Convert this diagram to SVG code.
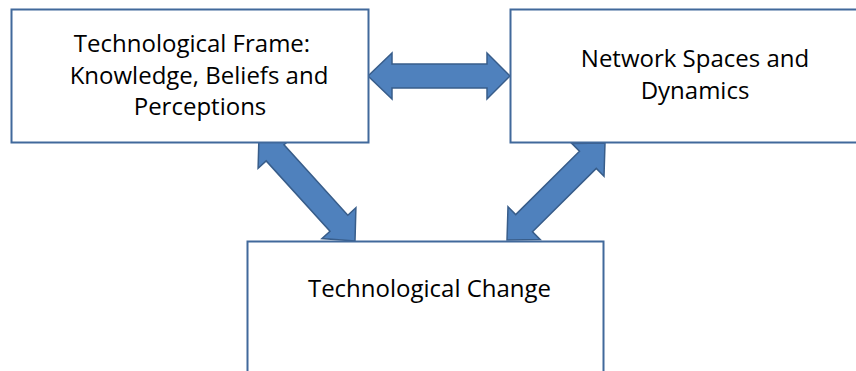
<svg xmlns="http://www.w3.org/2000/svg" width="856" height="371" viewBox="0 0 856 371">
  <style>
    .box { fill: #ffffff; stroke: #41699b; stroke-width: 2; }
    .arrow { fill: #4f81bd; stroke: #385d8a; stroke-width: 1.5; stroke-linejoin: miter; }
    .label { font-family: "Open Sans", "Liberation Sans", sans-serif; font-size: 24px; fill: #000000; text-anchor: middle; }
  </style>
  <rect width="856" height="371" fill="#ffffff"/>

  <!-- connectors: block double arrows, drawn first so the boxes overlap their tips -->
  <g id="connectors">
    <polygon class="arrow" points="368,76 392,53 392,64 487,64 487,53 510,76 487,99 487,88 392,88 392,99"/>
    <polygon class="arrow" points="259,135 258.1,168.2 266.2,160.9 330,231.2 321.9,238.6 355,241 355.9,207.8 347.8,215.2 284,144.8 292.1,137.8"/>
    <polygon class="arrow" points="605,143 571.8,143.4 579.5,151.2 515.7,214.6 508,206.8 507,240 540.2,239.6 532.5,231.8 596.3,168.4 604,176.2"/>
  </g>

  <g id="frame">
    <rect class="box" x="11.5" y="9.5" width="357" height="133"/>
    <text class="label" x="192" y="52">Technological Frame:</text>
    <text class="label" x="199" y="83.5">Knowledge, Beliefs and</text>
    <text class="label" x="200" y="115">Perceptions</text>
  </g>

  <g id="network">
    <rect class="box" x="510.5" y="9.5" width="370" height="133"/>
    <text class="label" x="695" y="67">Network Spaces and</text>
    <text class="label" x="695" y="99">Dynamics</text>
  </g>

  <g id="change">
    <rect class="box" x="247.5" y="241.5" width="356" height="140"/>
    <text class="label" x="429.5" y="297">Technological Change</text>
  </g>
</svg>
